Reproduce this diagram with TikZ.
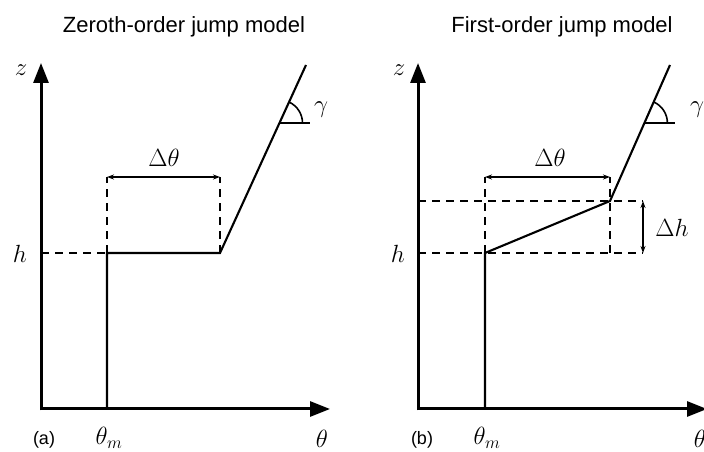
\documentclass[tikz,border=0pt]{standalone}
\usepackage{fontspec}
\newfontfamily\titlefont{Liberation Sans}
\usetikzlibrary{arrows.meta}
\tikzset{
  axis/.style={line width=3pt,-{Triangle[length=20pt,width=15pt]}},
  curve/.style={line width=2.1pt,line join=miter},
  guide/.style={line width=1.5pt,dash pattern=on 8pt off 6pt},
  dim/.style={line width=1.2pt,{Stealth[length=7pt,width=5pt]}-{Stealth[length=7pt,width=5pt]}},
  gam/.style={line width=1.6pt},
  lab/.style={inner sep=0pt,font=\fontsize{26}{30}\selectfont},
  ttl/.style={inner sep=0pt,anchor=base,font=\titlefont\fontsize{22}{26}\selectfont},
  tag/.style={inner sep=0pt,font=\titlefont\fontsize{18}{22}\selectfont},
}
\begin{document}
\begin{tikzpicture}[x=1pt,y=1pt]
\useasboundingbox (0,0) rectangle (704,452);
% ---------- panel (a) ----------
\coordinate (aO) at (41,43);
\coordinate (aZ) at (41,389);
\coordinate (aX) at (330,43);
\coordinate (aM) at (107,43);
\coordinate (aJ) at (107,199);
\coordinate (aP) at (220,199);
\coordinate (aT) at (306,387);
\coordinate (aG) at (279.5,329);
\coordinate (aGe) at (310,329);
\coordinate (aH) at (41,199);
\coordinate (aU1) at (107,275);
\coordinate (aU2) at (220,275);
\draw[axis] ([yshift=-1.5pt]aO) -- (aZ);
\draw[axis] (aO) -- (aX);
\draw[curve] (aM) -- (aJ) -- (aP) -- (aT);
\draw[guide] (aH) -- (aJ);
\draw[guide] (aJ) -- (aU1);
\draw[guide] (aP) -- (aU2);
\draw[dim] (aU1) -- (aU2);
\draw[gam] (aG) -- (aGe);
\draw[gam] ([xshift=23pt]aG) arc[start angle=0,end angle=65.4,radius=23pt];
\node[ttl] (at) at (184,419) {Zeroth-order jump model};
\node[lab] (az) at (21,382) {$z$};
\node[lab] (ah) at (20,198) {$h$};
\node[lab] (adt) at (164,294) {$\Delta\theta$};
\node[lab] (agl) at (321,342) {$\gamma$};
\node[lab] (atm) at (109,14) {$\theta_m$};
\node[lab] (ath) at (322,13) {$\theta$};
\node[tag] (ata) at (44,12) {(a)};
% ---------- panel (b) ----------
\coordinate (bO) at (418,43);
\coordinate (bZ) at (418,389);
\coordinate (bX) at (707,43);
\coordinate (bM) at (485,43);
\coordinate (bJ) at (485,199);
\coordinate (bK) at (610,251);
\coordinate (bT) at (670,387);
\coordinate (bG) at (644.4,329);
\coordinate (bGe) at (675,329);
\coordinate (bH) at (418,199);
\coordinate (bH2) at (418,251);
\coordinate (bR1) at (643,199);
\coordinate (bR2) at (643,251);
\coordinate (bK0) at (610,199);
\coordinate (bU1) at (485,275);
\coordinate (bU2) at (610,275);
\draw[axis] ([yshift=-1.5pt]bO) -- (bZ);
\draw[axis] (bO) -- (bX);
\draw[curve] (bM) -- (bJ) -- (bK) -- (bT);
\draw[guide] (bH) -- (bR1);
\draw[guide] (bH2) -- (bR2);
\draw[guide] (bJ) -- (bU1);
\draw[guide] (bK0) -- (bU2);
\draw[dim] (bU1) -- (bU2);
\draw[dim] (bR2) -- (bR1);
\draw[gam] (bG) -- (bGe);
\draw[gam] ([xshift=23pt]bG) arc[start angle=0,end angle=66.2,radius=23pt];
\node[ttl] (bt) at (562,419) {First-order jump model};
\node[lab] (bz) at (399,382) {$z$};
\node[lab] (bh) at (398,198) {$h$};
\node[lab] (bdt) at (550,294) {$\Delta\theta$};
\node[lab] (bdh) at (672,224) {$\Delta h$};
\node[lab] (bgl) at (697,342) {$\gamma$};
\node[lab] (btm) at (487,14) {$\theta_m$};
\node[lab] (bth) at (700,13) {$\theta$};
\node[tag] (btb) at (422,12) {(b)};
\end{tikzpicture}
\end{document}
